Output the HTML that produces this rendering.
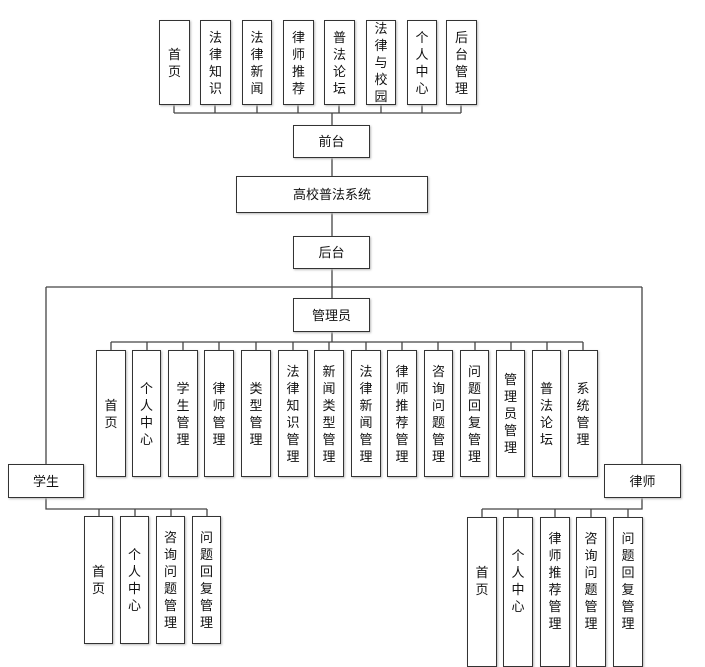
<!DOCTYPE html>
<html><head><meta charset="utf-8"><style>
body{margin:0;width:705px;height:656px;background:#fff;position:relative;overflow:hidden;font-family:"Liberation Sans","Noto Sans CJK SC",sans-serif;}
.b{position:absolute;box-sizing:border-box;border:1.5px solid #333;background:#fff;display:flex;align-items:center;justify-content:center;text-align:center;font-size:13px;line-height:17px;color:#111;box-shadow:1px 1px 2px #bbb;}
svg{position:absolute;left:0;top:0;}
</style></head><body>
<svg width="705" height="656">
<g stroke="#444" stroke-width="1.3" fill="none">
<path d="M174 105V113M215 105V113M257 105V113M298 105V113M339 105V113M381 105V113M422 105V113M461 105V113M174 113H461"/>
<path d="M332 113V125M332 158V176M332 213V236M332 269V298M46 287H642M46 287V464M642 287V464"/>
<path d="M111 342H583M332 332V342"/>
<path d="M111 342V350M147 342V350M183 342V350M219 342V350M256 342V350M293 342V350M329 342V350M366 342V350M402 342V350M438 342V350M475 342V350M511 342V350M547 342V350M583 342V350"/>
<path d="M46 498V509H207M99 509V517M135 509V517M171 509V517M207 509V517"/>
<path d="M642 498V509H482M482 509V517M518 509V517M555 509V517M591 509V517M628 509V517"/>
</g></svg>
<div class="b" style="left:159px;top:20px;width:31px;height:85px">首<br>页</div>
<div class="b" style="left:200px;top:20px;width:31px;height:85px">法<br>律<br>知<br>识</div>
<div class="b" style="left:242px;top:20px;width:30px;height:85px">法<br>律<br>新<br>闻</div>
<div class="b" style="left:283px;top:20px;width:31px;height:85px">律<br>师<br>推<br>荐</div>
<div class="b" style="left:324px;top:20px;width:31px;height:85px">普<br>法<br>论<br>坛</div>
<div class="b" style="left:366px;top:20px;width:30px;height:85px">法<br>律<br>与<br>校<br>园</div>
<div class="b" style="left:407px;top:20px;width:30px;height:85px">个<br>人<br>中<br>心</div>
<div class="b" style="left:446px;top:20px;width:31px;height:85px">后<br>台<br>管<br>理</div>
<div class="b" style="left:293px;top:125px;width:77px;height:33px">前台</div>
<div class="b" style="left:236px;top:176px;width:192px;height:37px">高校普法系统</div>
<div class="b" style="left:293px;top:236px;width:77px;height:33px">后台</div>
<div class="b" style="left:293px;top:298px;width:77px;height:34px">管理员</div>
<div class="b" style="left:96px;top:350px;width:30px;height:127px">首<br>页</div>
<div class="b" style="left:132px;top:350px;width:29px;height:127px">个<br>人<br>中<br>心</div>
<div class="b" style="left:168px;top:350px;width:30px;height:127px">学<br>生<br>管<br>理</div>
<div class="b" style="left:204px;top:350px;width:30px;height:127px">律<br>师<br>管<br>理</div>
<div class="b" style="left:241px;top:350px;width:30px;height:127px">类<br>型<br>管<br>理</div>
<div class="b" style="left:278px;top:350px;width:30px;height:127px">法<br>律<br>知<br>识<br>管<br>理</div>
<div class="b" style="left:314px;top:350px;width:30px;height:127px">新<br>闻<br>类<br>型<br>管<br>理</div>
<div class="b" style="left:351px;top:350px;width:30px;height:127px">法<br>律<br>新<br>闻<br>管<br>理</div>
<div class="b" style="left:387px;top:350px;width:30px;height:127px">律<br>师<br>推<br>荐<br>管<br>理</div>
<div class="b" style="left:424px;top:350px;width:29px;height:127px">咨<br>询<br>问<br>题<br>管<br>理</div>
<div class="b" style="left:460px;top:350px;width:29px;height:127px">问<br>题<br>回<br>复<br>管<br>理</div>
<div class="b" style="left:496px;top:350px;width:29px;height:127px">管<br>理<br>员<br>管<br>理</div>
<div class="b" style="left:532px;top:350px;width:29px;height:127px">普<br>法<br>论<br>坛</div>
<div class="b" style="left:568px;top:350px;width:30px;height:127px">系<br>统<br>管<br>理</div>
<div class="b" style="left:8px;top:464px;width:76px;height:34px">学生</div>
<div class="b" style="left:604px;top:464px;width:77px;height:34px">律师</div>
<div class="b" style="left:84px;top:516px;width:29px;height:128px">首<br>页</div>
<div class="b" style="left:120px;top:516px;width:29px;height:128px">个<br>人<br>中<br>心</div>
<div class="b" style="left:156px;top:516px;width:29px;height:128px">咨<br>询<br>问<br>题<br>管<br>理</div>
<div class="b" style="left:192px;top:516px;width:29px;height:128px">问<br>题<br>回<br>复<br>管<br>理</div>
<div class="b" style="left:467px;top:517px;width:30px;height:150px;padding-bottom:22px">首<br>页</div>
<div class="b" style="left:503px;top:517px;width:30px;height:150px;padding-bottom:22px">个<br>人<br>中<br>心</div>
<div class="b" style="left:540px;top:517px;width:30px;height:150px;padding-bottom:22px">律<br>师<br>推<br>荐<br>管<br>理</div>
<div class="b" style="left:576px;top:517px;width:30px;height:150px;padding-bottom:22px">咨<br>询<br>问<br>题<br>管<br>理</div>
<div class="b" style="left:613px;top:517px;width:30px;height:150px;padding-bottom:22px">问<br>题<br>回<br>复<br>管<br>理</div>
</body></html>
